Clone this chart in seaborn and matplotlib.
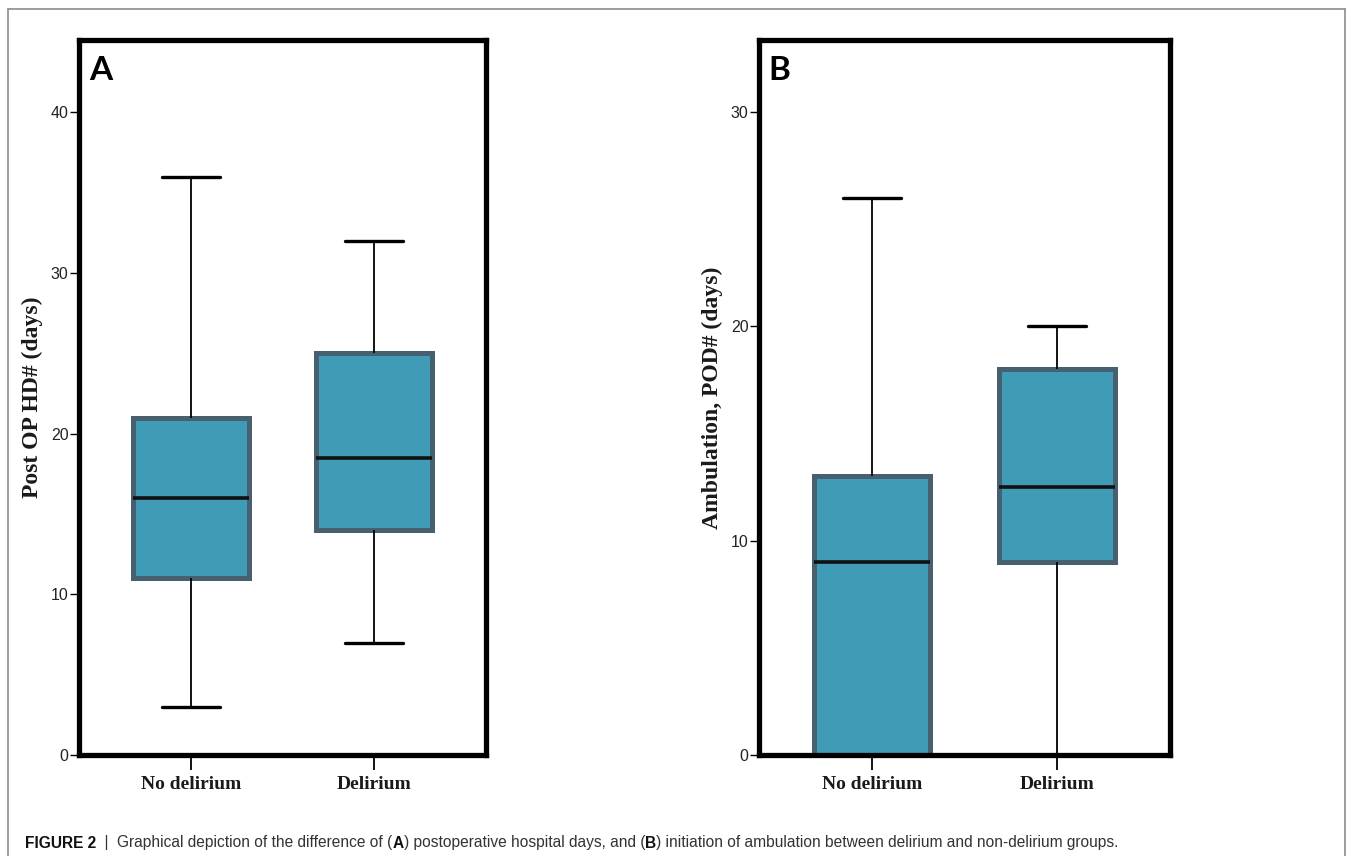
import numpy as np
import pandas as pd
import matplotlib
matplotlib.use("Agg")
import matplotlib.pyplot as plt
import seaborn as sns
from matplotlib.lines import Line2D

# ---------------- data ----------------
groups = ["No delirium", "Delirium"]
# five-number summaries: min, Q1, median, Q3, max
hosp_no_delirium = [3, 11, 16, 21, 36]
hosp_delirium = [7, 14, 18.5, 25, 32]
amb_no_delirium = [0, 0, 9, 13, 26]
amb_delirium = [0, 9, 12.5, 18, 20]
yticks_a = [0, 10, 20, 30, 40]
yticks_b = [0, 10, 20, 30]
ylabel_a = "Post OP HD# (days)"
ylabel_b = "Ambulation, POD# (days)"
panel_letters = ["A", "B"]
caption_parts = [
    ("FIGURE 2", "bold"),
    ("  |  Graphical depiction of the difference of (", "normal"),
    ("A", "bold"),
    (") postoperative hospital days, and (", "normal"),
    ("B", "bold"),
    (") initiation of ambulation between delirium and non-delirium groups.", "normal"),
]

dfA = pd.DataFrame({
    "group": [groups[0]] * len(hosp_no_delirium) + [groups[1]] * len(hosp_delirium),
    "value": hosp_no_delirium + hosp_delirium,
})
dfB = pd.DataFrame({
    "group": [groups[0]] * len(amb_no_delirium) + [groups[1]] * len(amb_delirium),
    "value": amb_no_delirium + amb_delirium,
})

# ---------------- style ----------------
sns.set_style("white")
plt.rcParams["font.family"] = ["Liberation Sans", "DejaVu Sans"]

W, H = 1347, 856
fig = plt.figure(figsize=(W / 100, H / 100), dpi=100)
fig.patch.set_facecolor("white")

FILL = "#3f9bb6"
EDGE = "#46606f"
SERIF = ["Liberation Serif", "DejaVu Serif"]
NARROW = ["Liberation Sans Narrow", "Liberation Sans", "DejaVu Sans"]


def make_panel(ax, df, yticks, ylim_top, ylabel, letter, letter_x, ylab_size):
    sns.boxplot(
        data=df, x="group", y="value", order=groups, ax=ax,
        color=FILL, width=0.63, whis=(0, 100), saturation=1,
        boxprops=dict(facecolor=FILL, edgecolor=EDGE, linewidth=3.6),
        whiskerprops=dict(color="black", linewidth=1.3),
        capprops=dict(color="black", linewidth=2.4),
        medianprops=dict(color="#111111", linewidth=2.6),
        showfliers=False,
    )
    ax.set_xlim(-0.61, 1.61)
    ax.set_ylim(0, ylim_top)
    ax.set_yticks(yticks)
    ax.set_yticklabels([str(t) for t in yticks])
    for s in ax.spines.values():
        s.set_visible(True)
        s.set_color("black")
        s.set_linewidth(3.8)
    ax.tick_params(axis="y", left=True, direction="out", length=6.5, width=1.0,
                   pad=1, labelsize=11.5, colors="black")
    ax.tick_params(axis="x", bottom=True, direction="out", length=11, width=1.3,
                   pad=4, labelsize=14, colors="black")
    for lab in ax.get_yticklabels():
        lab.set_fontfamily(NARROW)
        lab.set_color("#222222")
    for lab in ax.get_xticklabels():
        lab.set_fontfamily(SERIF)
        lab.set_fontweight("bold")
        lab.set_color("#1a1a1a")
    ax.set_xlabel("")
    ax.set_ylabel(ylabel, fontfamily=SERIF, fontweight="bold", fontsize=ylab_size,
                  color="#1a1a1a")
    ax.yaxis.set_label_coords(-0.088, 0.5)
    ax.text(letter_x, 0.978, letter, transform=ax.transAxes, ha="left", va="top",
            fontsize=24, fontweight="bold", family=["Lato", "DejaVu Sans"],
            color="black")


axA = fig.add_axes([79 / W, 1 - 755 / H, (486 - 79) / W, (755 - 40) / H])
axB = fig.add_axes([759 / W, 1 - 755 / H, (1170 - 759) / W, (755 - 40) / H])

make_panel(axA, dfA, yticks_a, 44.5, ylabel_a, panel_letters[0], 0.026, 17)
make_panel(axB, dfB, yticks_b, 33.36, ylabel_b, panel_letters[1], 0.022, 17)

# ---------------- outer frame ----------------
fc = "#8c8c8c"
def px(x, y):
    return x / W, 1 - y / H
for (x0, y0), (x1, y1) in [((8, 9), (1345, 9)), ((8, 9), (8, 856)), ((1345, 9), (1345, 856))]:
    a, b = px(x0, y0)
    c, d = px(x1, y1)
    fig.add_artist(Line2D([a, c], [b, d], transform=fig.transFigure, color=fc, lw=1.2))

# ---------------- caption ----------------
fig.canvas.draw()
renderer = fig.canvas.get_renderer()
x = 25
for txt, weight in caption_parts:
    t = fig.text(x / W, 1 - 843 / H, txt, fontsize=11.2, fontweight=weight,
                 family=["Liberation Sans", "DejaVu Sans"],
                 color="#111111" if weight == "bold" else "#333333",
                 ha="left", va="center")
    bb = t.get_window_extent(renderer)
    x = x + bb.width

fig.savefig("out.png", dpi=100, facecolor="white")
